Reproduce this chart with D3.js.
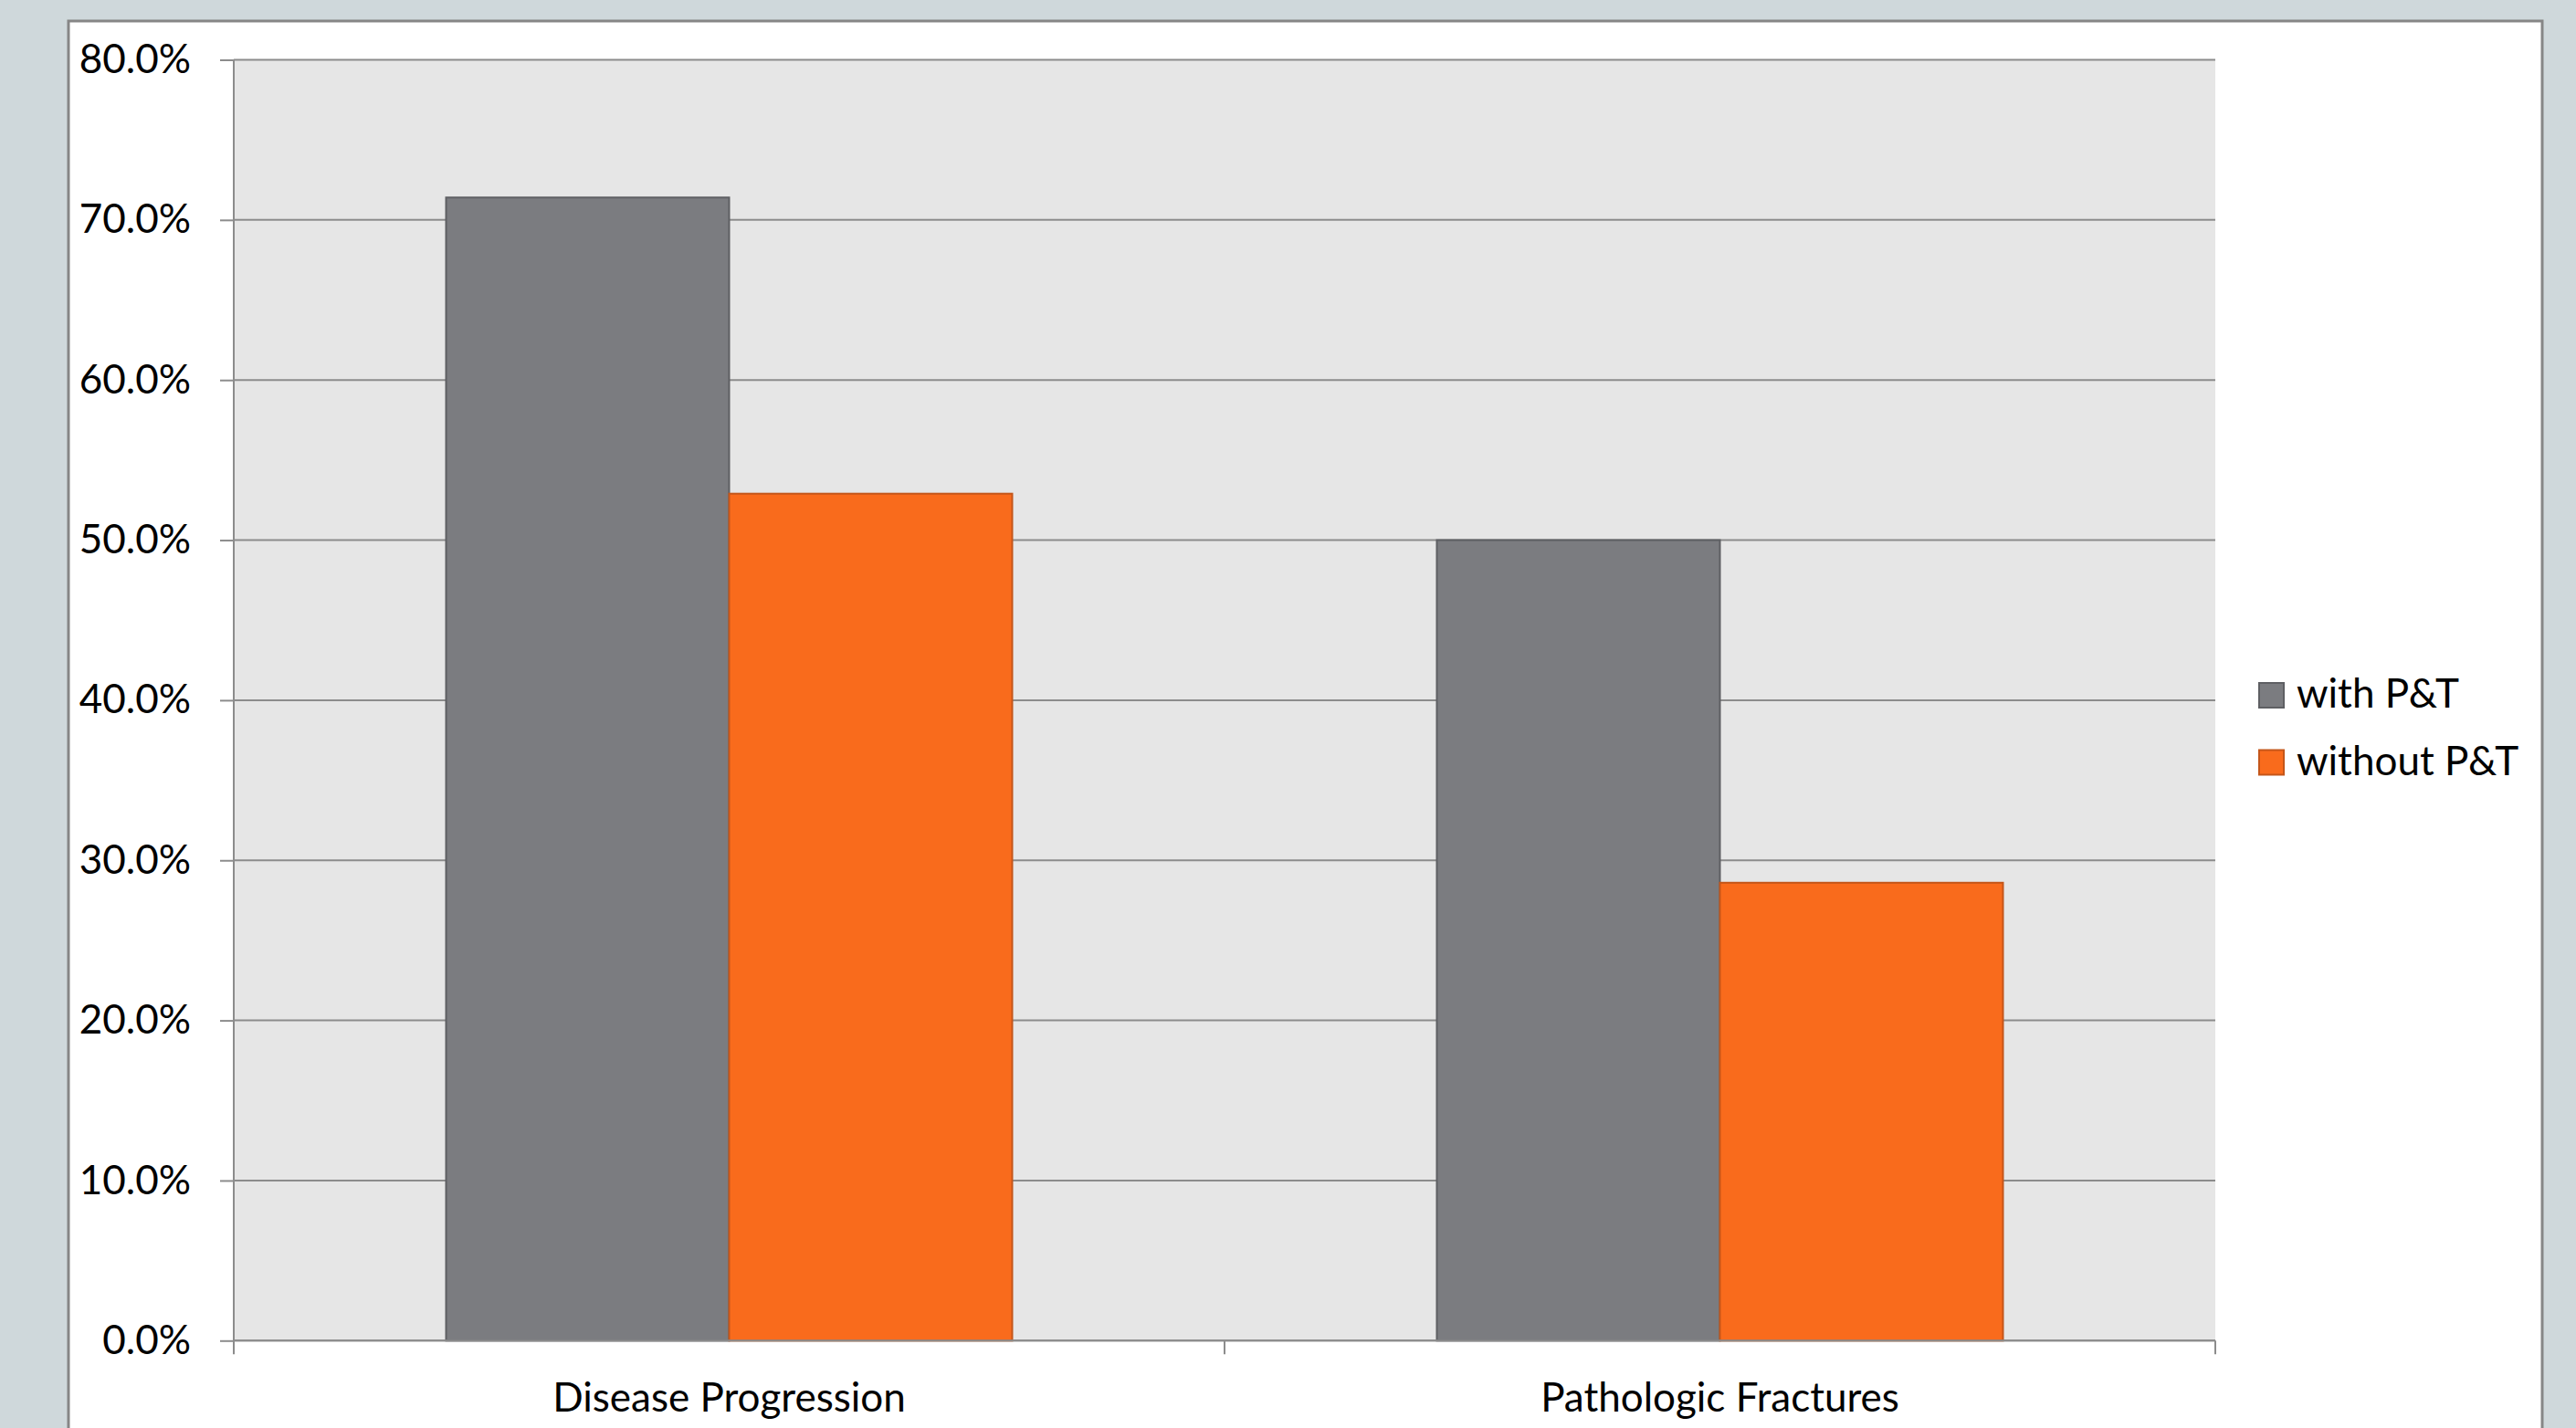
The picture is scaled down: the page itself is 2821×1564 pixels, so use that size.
<!DOCTYPE html>
<html>
<head>
<meta charset="utf-8">
<script src="https://cdn.jsdelivr.net/npm/d3@7"></script>
<style>
  html, body { margin: 0; padding: 0; background: #cfd8db; }
  svg { display: block; }
  text { font-family: Lato, "Noto Sans", sans-serif; fill: #000; }
</style>
</head>
<body>
<svg id="chart" width="2821" height="1564"></svg>
<script>
const categories = ["Disease Progression", "Pathologic Fractures"];
const seriesNames = ["with P&T", "without P&T"];
const withPT = [71.4, 50.0];
const withoutPT = [52.9, 28.6];
const yTicks = [0, 10, 20, 30, 40, 50, 60, 70, 80];

const colors = { "with P&T": "#7b7c80", "without P&T": "#f96b1c" };
const strokes = { "with P&T": "#5e5f63", "without P&T": "#c4561a" };

const W = 2821, H = 1564;
const svg = d3.select("#chart");

// white panel
svg.append("rect")
  .attr("x", 75).attr("y", 23).attr("width", 2709).attr("height", 1600)
  .attr("fill", "#ffffff").attr("stroke", "#868686").attr("stroke-width", 3);

const plot = { left: 256, right: 2426, top: 65.5, bottom: 1468.3 };

const y = d3.scaleLinear().domain([0, 80]).range([plot.bottom, plot.top]);
const x0 = d3.scaleBand().domain(categories).range([plot.left, plot.right]).paddingInner(0).paddingOuter(0);
// gap width 150% -> group occupies 2/(2+1.5) of category band
const groupFrac = 2 / 3.5;
const x1 = d3.scaleBand().domain(seriesNames)
  .range([0, x0.bandwidth() * groupFrac]);

const g = svg.append("g");

// plot background
g.append("rect")
  .attr("x", plot.left).attr("y", plot.top)
  .attr("width", plot.right - plot.left).attr("height", plot.bottom - plot.top)
  .attr("fill", "#e6e6e6");

// gridlines
g.append("g").selectAll("line").data(yTicks).join("line")
  .attr("x1", plot.left).attr("x2", plot.right)
  .attr("y1", d => y(d)).attr("y2", d => y(d))
  .attr("stroke", "#8c8c8c").attr("stroke-width", 2);

// bars
const rows = categories.map((c, i) => ({ cat: c, vals: [
  { s: seriesNames[0], v: withPT[i] },
  { s: seriesNames[1], v: withoutPT[i] }
]}));

const offset = (x0.bandwidth() - x0.bandwidth() * groupFrac) / 2;
const groups = g.append("g").selectAll("g").data(rows).join("g")
  .attr("transform", d => `translate(${x0(d.cat) + offset},0)`);
groups.selectAll("rect").data(d => d.vals).join("rect")
  .attr("x", d => x1(d.s))
  .attr("y", d => y(d.v))
  .attr("width", x1.bandwidth())
  .attr("height", d => y(0) - y(d.v))
  .attr("fill", d => colors[d.s])
  .attr("stroke", d => strokes[d.s])
  .attr("stroke-width", 2);

// y axis
const yAxis = d3.axisLeft(y).tickValues(yTicks)
  .tickFormat(d => d.toFixed(1) + "%").tickSize(15).tickPadding(32);
const yg = svg.append("g").attr("transform", `translate(${plot.left},0)`).call(yAxis);
yg.select(".domain").attr("stroke", "#8c8c8c").attr("stroke-width", 2)
  .attr("d", `M0,${plot.top}V${plot.bottom}`);
yg.selectAll(".tick line").attr("stroke", "#8c8c8c").attr("stroke-width", 2);
yg.selectAll(".tick text").attr("font-size", 44).attr("font-family", "Lato, 'Noto Sans', sans-serif").attr("fill", "#000");

// x axis
const xAxis = d3.axisBottom(x0).tickSize(0).tickPadding(46);
const xg = svg.append("g").attr("transform", `translate(0,${plot.bottom})`).call(xAxis);
xg.select(".domain").attr("stroke", "#8c8c8c").attr("stroke-width", 2)
  .attr("d", `M${plot.left},0H${plot.right}`);
xg.selectAll(".tick text").attr("font-size", 44).attr("font-family", "Lato, 'Noto Sans', sans-serif").attr("fill", "#000");
// category boundary ticks
const bounds = [plot.left, ...categories.map(c => x0(c) + x0.bandwidth())];
xg.append("g").selectAll("line").data(bounds).join("line")
  .attr("x1", d => d).attr("x2", d => d).attr("y1", 0).attr("y2", 15)
  .attr("stroke", "#8c8c8c").attr("stroke-width", 2);

// legend
const legend = svg.append("g").attr("transform", "translate(2474,748)");
const li = legend.selectAll("g").data(seriesNames).join("g")
  .attr("transform", (d, i) => `translate(0,${i * 73.5})`);
li.append("rect").attr("width", 27).attr("height", 27)
  .attr("fill", d => colors[d]).attr("stroke", d => strokes[d]).attr("stroke-width", 2);
li.append("text").attr("x", 41).attr("y", 27).attr("font-size", 44).text(d => d);
</script>
</body>
</html>
